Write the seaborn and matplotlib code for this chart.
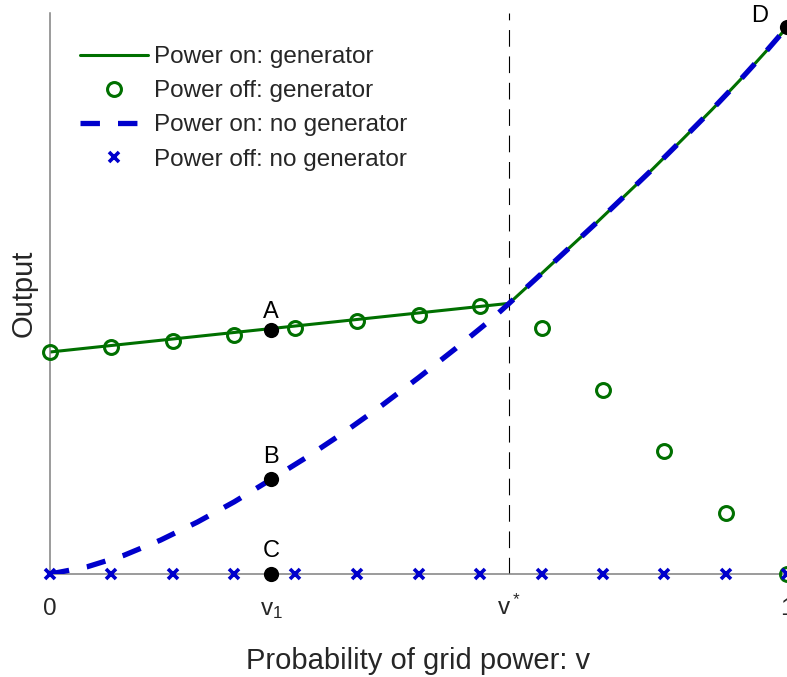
import numpy as np
import pandas as pd
import seaborn as sns
import matplotlib.pyplot as plt

## Values
v1 = 0.30
v_star = 0.623

# grid of probabilities where the "power off" markers sit
grid_v = [0.0, 0.083, 0.167, 0.25, 0.333, 0.417, 0.5, 0.583, 0.667, 0.75, 0.833, 0.917, 1.0]
off_gen = [0.406, 0.415, 0.426, 0.437, 0.450, 0.463, 0.474, 0.490, 0.450, 0.336, 0.225, 0.112, 0.0]
off_nogen = [0.0, 0.0, 0.0, 0.0, 0.0, 0.0, 0.0, 0.0, 0.0, 0.0, 0.0, 0.0, 0.0]

# power on, with generator
on_gen_v = [0.0, 0.623, 0.661, 0.701, 0.742, 0.777, 0.818, 0.859, 0.898, 0.936, 0.973, 1.0]
on_gen = [0.406, 0.495, 0.542, 0.592, 0.643, 0.688, 0.741, 0.796, 0.849, 0.903, 0.958, 1.0]

# power on, no generator
on_nogen_v = [0.0, 0.05, 0.10, 0.15, 0.20, 0.25, 0.30, 0.35, 0.40, 0.45, 0.50, 0.55, 0.60, 0.623,
              0.661, 0.701, 0.742, 0.777, 0.818, 0.859, 0.898, 0.936, 0.973, 1.0]
on_nogen = [0.0, 0.013, 0.034, 0.062, 0.095, 0.132, 0.173, 0.215, 0.260, 0.308, 0.359, 0.412, 0.467, 0.495,
            0.542, 0.592, 0.643, 0.688, 0.741, 0.796, 0.849, 0.903, 0.958, 1.0]

# labelled points
pt_names = ['A', 'B', 'C', 'D']
pt_v = [0.30, 0.30, 0.30, 1.0]
pt_out = [0.447, 0.173, 0.0, 1.0]

tick_pos = [0.0, v1, v_star, 1.0]
tick_labels = ['0', r'$\mathregular{v_1}$', r'$\mathregular{v^*}$', '1']

green = '#007000'
blue = '#0000cc'

sns.set_theme(style='white')
plt.rcParams['font.family'] = ['Liberation Sans', 'DejaVu Sans']
plt.rcParams['lines.scale_dashes'] = False

fig = plt.figure(figsize=(7.87, 6.77), dpi=100)
ax = fig.add_axes([50 / 787, 103 / 677, 737 / 787, 561 / 677])

## vertical marker at v*
ax.axvline(v_star, color='black', lw=0.8, dashes=(12, 7), zorder=1)

## curves and markers
sns.lineplot(x=on_gen_v, y=on_gen, ax=ax, color=green, lw=2.2, sort=False,
             label='Power on: generator', zorder=2)
sns.lineplot(x=grid_v, y=off_gen, ax=ax, color=green, linestyle='none', marker='o',
             markersize=10, markerfacecolor='none', markeredgecolor=green, markeredgewidth=2.2,
             sort=False, label='Power off: generator', clip_on=False, zorder=3)
sns.lineplot(x=on_nogen_v, y=on_nogen, ax=ax, color=blue, lw=3.8, dashes=(14, 13), sort=False,
             label='Power on: no generator', zorder=4)
sns.lineplot(x=grid_v, y=off_nogen, ax=ax, color=blue, linestyle='none', marker='x',
             markersize=7, markeredgecolor=blue, markeredgewidth=2.6, sort=False,
             label='Power off: no generator', clip_on=False, zorder=5)

sns.scatterplot(x=pt_v, y=pt_out, ax=ax, color='black', s=120, edgecolor='black',
                linewidth=0, clip_on=False, zorder=6, legend=False)

offsets = {'A': (0, 8), 'B': (0, 12), 'C': (0, 12), 'D': (-20, 3.6)}
for name, xv, yv in zip(pt_names, pt_v, pt_out):
    ax.annotate(name, (xv, yv), xytext=offsets[name], textcoords='offset points',
                ha='center', va='baseline', fontsize=17, color='black', annotation_clip=False)

## axes styling
ax.set_xlim(0, 1)
ax.set_ylim(0, 1.026)
ax.set_yticks([])
ax.set_xticks(tick_pos, labels=tick_labels, va='baseline')
ax.tick_params(axis='x', length=0, pad=29.5, labelsize=17.5, colors='#262626')
for side in ['top', 'right']:
    ax.spines[side].set_visible(False)
for side in ['left', 'bottom']:
    ax.spines[side].set_color('#808080')
    ax.spines[side].set_linewidth(1.1)

ax.set_xlabel('Probability of grid power: v', fontsize=21, color='#262626', labelpad=18.5)
ax.set_ylabel('Output', fontsize=21, color='#262626', labelpad=9)

ax.legend(loc='upper left', bbox_to_anchor=(0.041, 0.941), frameon=False, fontsize=17.5,
          handlelength=2.8, handletextpad=0.25, labelspacing=0.5, borderpad=0,
          borderaxespad=0, numpoints=1)

fig.savefig('out.png', dpi=100)
